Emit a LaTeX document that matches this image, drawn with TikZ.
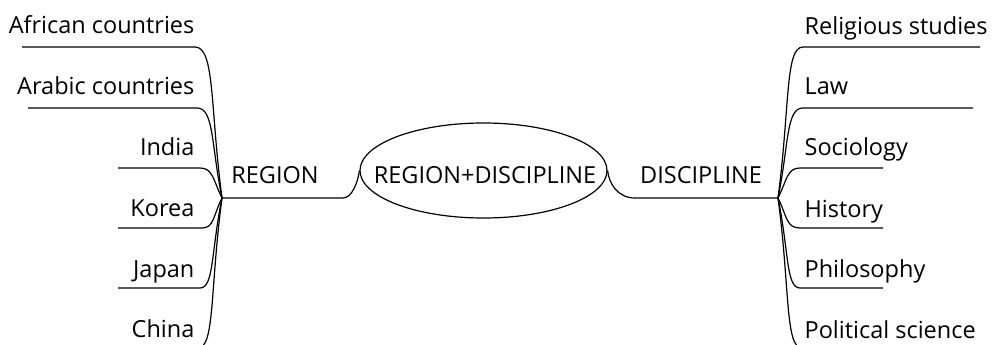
\documentclass[tikz,border=0pt]{standalone}
\usepackage{fontspec}
\setmainfont{Open Sans}
\usetikzlibrary{shapes.geometric}
\begin{document}
\begin{tikzpicture}[x=1pt,y=-1pt,line width=1.2pt,
  lbl/.style={inner sep=0pt,font=\fontsize{23.5}{28}\selectfont},
  lft/.style={lbl,anchor=base east},
  rgt/.style={lbl,anchor=base west},
  branch/.style={draw=black,line width=1.2pt}]
\useasboundingbox (0,0) rectangle (993,345);
\clip (0,0) rectangle (993,345);
\fill[white] (0,0) rectangle (993,345);
% centre
\node[ellipse,draw,line width=1.2pt,minimum width=247pt,minimum height=95pt,inner sep=0pt] (e) at (483.5,170.5) {};
\node[lbl,anchor=base] (et) at (485,183) {REGION+DISCIPLINE};
\node[lbl,anchor=base] (reg) at (275,183) {REGION};
\node[lbl,anchor=base] (dis) at (701,183) {DISCIPLINE};
\coordinate (hl) at (222,198);
\coordinate (hr) at (778,198);
\coordinate (lb) at (343,198);
\coordinate (rb) at (635,198);
\draw[branch] (hl) -- (lb) .. controls (352,198) and (358,182) .. (e.west);
\draw[branch] (e.east) .. controls (609,184) and (618,198) .. (rb) -- (hr);
% left labels
\node[lft] (a1) at (195,34) {African countries};
\node[lft] (a2) at (195,94) {Arabic countries};
\node[lft] (a3) at (195,155) {India};
\node[lft] (a4) at (195,216) {Korea};
\node[lft] (a5) at (195,277) {Japan};
\node[lft] (a6) at (195,337) {China};
\coordinate (a1s) at (22,47);   \coordinate (a1e) at (195,47);
\coordinate (a2s) at (28,108);  \coordinate (a2e) at (197,108);
\coordinate (a3s) at (118,168); \coordinate (a3e) at (200,168);
\coordinate (a4s) at (118,228); \coordinate (a4e) at (202,228);
\coordinate (a5s) at (118,288); \coordinate (a5e) at (200,288);
\coordinate (a6s) at (118,348); \coordinate (a6e) at (198,348);
\draw[branch] (hl) .. controls (210,107) and (215,47) .. (a1e) -- (a1s);
\draw[branch] (hl) .. controls (211,144) and (214,108) .. (a2e) -- (a2s);
\draw[branch] (hl) .. controls (213,180) and (213,168) .. (a3e) -- (a3s);
\draw[branch] (hl) .. controls (213,216) and (214,228) .. (a4e) -- (a4s);
\draw[branch] (hl) .. controls (211,252) and (214,288) .. (a5e) -- (a5s);
\draw[branch] (hl) .. controls (210,288) and (215,348) .. (a6e) -- (a6s);
% right labels
\node[rgt] (d1) at (804,35) {Religious studies};
\node[rgt] (d2) at (804,95) {Law};
\node[rgt] (d3) at (804,155) {Sociology};
\node[rgt] (d4) at (804,217) {History};
\node[rgt] (d5) at (804,277) {Philosophy};
\node[rgt] (d6) at (804,338) {Political science};
\coordinate (d1s) at (803,47);  \coordinate (d1e) at (980,47);
\coordinate (d2s) at (803,108); \coordinate (d2e) at (973,108);
\coordinate (d3s) at (800,168); \coordinate (d3e) at (883,168);
\coordinate (d4s) at (800,228); \coordinate (d4e) at (883,228);
\coordinate (d5s) at (800,288); \coordinate (d5e) at (883,288);
\coordinate (d6s) at (802,348); \coordinate (d6e) at (990,348);
\draw[branch] (hr) .. controls (790,107) and (785,47) .. (d1s) -- (d1e);
\draw[branch] (hr) .. controls (789,144) and (786,108) .. (d2s) -- (d2e);
\draw[branch] (hr) .. controls (787,180) and (787,168) .. (d3s) -- (d3e);
\draw[branch] (hr) .. controls (787,216) and (786,228) .. (d4s) -- (d4e);
\draw[branch] (hr) .. controls (789,252) and (786,288) .. (d5s) -- (d5e);
\draw[branch] (hr) .. controls (790,288) and (785,348) .. (d6s) -- (d6e);
\end{tikzpicture}
\end{document}
